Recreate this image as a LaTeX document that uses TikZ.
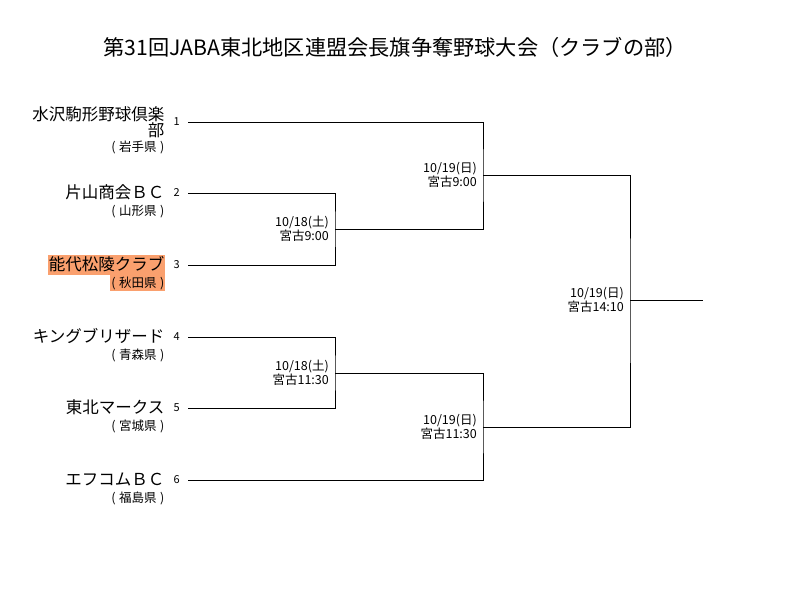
\documentclass[tikz,border=0pt]{standalone}
\usepackage{fontspec}
\setmainfont{Noto Sans CJK JP}
\usepackage{xcolor}
\definecolor{hilite}{RGB}{250,160,110}
\usetikzlibrary{positioning}
\usetikzlibrary{calc}

\newcommand{\pf}[1]{(\kern3.5pt#1\kern3.5pt)}

\tikzset{
	num/.style={inner sep=0pt, font=\fontsize{11}{13}\selectfont},
	team/.style={inner xsep=1pt, inner ysep=1pt, font=\fontsize{16.5}{15}\selectfont},
	oneline/.style={team, text height=14pt, text depth=4pt},
	pref/.style={inner xsep=1pt, inner ysep=0.5pt, text height=11.5pt, text depth=3.5pt, font=\fontsize{12.5}{14}\selectfont},
	match/.style={inner sep=1pt, align=right, font=\fontsize{12.5}{14}\selectfont},
	bracket/.style={line width=1pt}
}

\begin{document}
\begin{tikzpicture}[x=1pt,y=-1pt]
		\useasboundingbox (0,0) rectangle (800,594);
		
		%title
		\node[font=\fontsize{21.2}{22}\selectfont] (title) at (395,47) {第31回JABA東北地区連盟会長旗争奪野球大会（クラブの部）};
		
		%line ends & numbers
		\foreach \i/\y in {1/122,2/193,3/265,4/337,5/408,6/480}
		{
		\coordinate (t\i) at (188,\y);
		\node[num, left=8pt of t\i] (n\i) {\i};
		}
		
		%teams & prefectures
		\node[team, align=right, left=8pt of n1] (name1) {水沢駒形野球倶楽\\部};
		\node[pref, anchor=north east] (pref1) at (name1.south east) {\pf{岩手県}};
		\node[oneline, left=8pt of n2] (name2) {片山商会ＢＣ};
		\node[pref, anchor=north east] (pref2) at (name2.south east) {\pf{山形県}};
		\node[oneline, fill=hilite, left=8pt of n3] (name3) {能代松陵クラブ};
		\node[pref, fill=hilite, anchor=north east] (pref3) at (name3.south east) {\pf{秋田県}};
		\node[oneline, left=8pt of n4] (name4) {キングブリザード};
		\node[pref, anchor=north east] (pref4) at (name4.south east) {\pf{青森県}};
		\node[oneline, left=8pt of n5] (name5) {東北マークス};
		\node[pref, anchor=north east] (pref5) at (name5.south east) {\pf{宮城県}};
		\node[oneline, left=8pt of n6] (name6) {エフコムＢＣ};
		\node[pref, anchor=north east] (pref6) at (name6.south east) {\pf{福島県}};
		
		%match points
		\coordinate (m1) at (335,229);
		\coordinate (m2) at (335,373);
		\coordinate (m3) at (483,175);
		\coordinate (m4) at (483,427);
		\coordinate (m5) at (630,300);
		\coordinate (champ) at (703,300);
		
		%draw bracket
		\draw[bracket] (t2) -| (m1) |- (t3);
		\draw[bracket] (t4) -| (m2) |- (t5);
		\draw[bracket] (t1) -| (m3) |- (m1);
		\draw[bracket] (m2) -| (m4) |- (t6);
		\draw[bracket] (m3) -| (m5) |- (m4);
		\draw[bracket] (m5) -- (champ);
		
		%dates & venues
		\node[match, left=5pt of m1] (d1) {10/18(土)\\宮古9:00};
		\node[match, left=5pt of m2] (d2) {10/18(土)\\宮古11:30};
		\node[match, left=5pt of m3] (d3) {10/19(日)\\宮古9:00};
		\node[match, left=5pt of m4] (d4) {10/19(日)\\宮古11:30};
		\node[match, left=5pt of m5] (d5) {10/19(日)\\宮古14:10};
\end{tikzpicture}
\end{document}
